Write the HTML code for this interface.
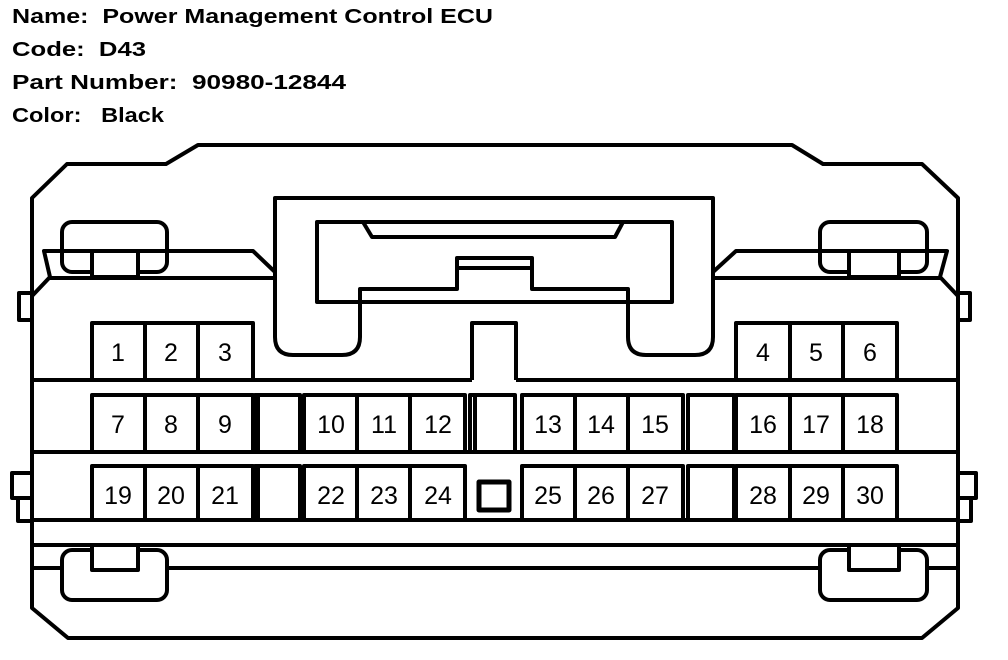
<!DOCTYPE html>
<html><head><meta charset="utf-8"><style>
html,body{margin:0;padding:0;background:#fff;}
svg{display:block;}
.h{font-family:"Liberation Sans",sans-serif;font-weight:bold;font-size:20px;white-space:pre;}
.n{font-family:"Liberation Sans",sans-serif;font-size:25px;text-anchor:middle;}
</style></head><body>
<svg width="1008" height="660" viewBox="0 0 1008 660" xmlns="http://www.w3.org/2000/svg" xml:space="preserve">
<text class="h" x="12" y="23" textLength="481" lengthAdjust="spacingAndGlyphs">Name:  Power Management Control ECU</text>
<text class="h" x="12" y="56" textLength="134" lengthAdjust="spacingAndGlyphs">Code:  D43</text>
<text class="h" x="12" y="89" textLength="334" lengthAdjust="spacingAndGlyphs">Part Number:  90980-12844</text>
<text class="h" x="12" y="122" textLength="152" lengthAdjust="spacingAndGlyphs">Color:   Black</text>
<g fill="none" stroke="#000" stroke-width="4" stroke-linejoin="round">
<path d="M32,296 L32,608 L68,638 L922,638 L958,608 L958,198 L922,164 L823,164 L792,145 L198,145 L166,164 L67,164 L32,198 L32,296"/>
<rect x="19" y="293" width="13" height="27"/>
<rect x="958" y="293" width="12" height="27"/>
<rect x="12" y="473" width="20" height="25"/>
<rect x="18" y="498" width="14" height="23"/>
<rect x="958" y="473" width="18" height="25"/>
<rect x="958" y="498" width="13" height="23"/>
<path d="M32,296 L50,277 L44,251 L253,251 L275,272"/>
<path d="M50,278 L275,278"/>
<path d="M958,296 L940,277 L947,251 L736,251 L713,272"/>
<path d="M713,278 L940,278"/>
<rect x="62" y="222" width="105" height="50" rx="10"/>
<rect x="92" y="251" width="46" height="26" fill="#fff"/>
<rect x="820" y="222" width="107" height="50" rx="10"/>
<rect x="849" y="251" width="50" height="26" fill="#fff"/>
<path d="M275,278 L275,198 L713,198 L713,337 Q713,355 695,355 L646,355 Q628,355 628,337 L628,289 L532,289 L532,258 L457,258 L457,289 L360,289 L360,337 Q360,355 342,355 L293,355 Q275,355 275,337 Z"/>
<rect x="317" y="222" width="355" height="80"/>
<path d="M363,222 L372,237 L615,237 L623,222"/>
<path d="M457,268 L532,268"/>
<path d="M32,380 L472,380 M516,380 L958,380"/>
<path d="M472,380 L472,323 L516,323 L516,380"/>
<path d="M32,452 L958,452"/>
<path d="M32,520 L958,520"/>
<path d="M32,545 L958,545"/>
<path d="M32,568 L62,568 M167,568 L820,568 M927,568 L958,568"/>
<rect x="62" y="550" width="105" height="50" rx="10" fill="#fff"/>
<rect x="92" y="545" width="46" height="25" fill="#fff"/>
<rect x="820" y="550" width="107" height="50" rx="10" fill="#fff"/>
<rect x="849" y="545" width="50" height="25" fill="#fff"/>
<path d="M470,452 L470,395 L515,395 L515,452"/>
<path d="M475,395 L475,450"/>
<rect x="479" y="482" width="30" height="28" stroke-width="5"/>
<g>
<rect x="92" y="323" width="53" height="57"/><rect x="145" y="323" width="53" height="57"/><rect x="198" y="323" width="55" height="57"/>
<rect x="736" y="323" width="54" height="57"/><rect x="790" y="323" width="53" height="57"/><rect x="843" y="323" width="54" height="57"/>
<rect x="92" y="395" width="53" height="57"/><rect x="145" y="395" width="53" height="57"/><rect x="198" y="395" width="55" height="57"/>
<rect x="255" y="395" width="45" height="57"/>
<rect x="304" y="395" width="53" height="57"/><rect x="357" y="395" width="53" height="57"/><rect x="410" y="395" width="55" height="57"/>
<rect x="522" y="395" width="53" height="57"/><rect x="575" y="395" width="53" height="57"/><rect x="628" y="395" width="55" height="57"/>
<rect x="688" y="395" width="46" height="57"/>
<rect x="736" y="395" width="54" height="57"/><rect x="790" y="395" width="53" height="57"/><rect x="843" y="395" width="54" height="57"/>
<rect x="92" y="466" width="53" height="54"/><rect x="145" y="466" width="53" height="54"/><rect x="198" y="466" width="55" height="54"/>
<rect x="255" y="466" width="45" height="54"/>
<rect x="304" y="466" width="53" height="54"/><rect x="357" y="466" width="53" height="54"/><rect x="410" y="466" width="55" height="54"/>
<rect x="522" y="466" width="53" height="54"/><rect x="575" y="466" width="53" height="54"/><rect x="628" y="466" width="55" height="54"/>
<rect x="688" y="466" width="46" height="54"/>
<rect x="736" y="466" width="54" height="54"/><rect x="790" y="466" width="53" height="54"/><rect x="843" y="466" width="54" height="54"/>
</g>
<path d="M257,395 L257,452 M257,466 L257,520" stroke-width="6"/>
</g>
<g class="n" fill="#000">
<text x="118" y="361">1</text><text x="171" y="361">2</text><text x="225" y="361">3</text>
<text x="763" y="361">4</text><text x="816" y="361">5</text><text x="870" y="361">6</text>
<text x="118" y="433">7</text><text x="171" y="433">8</text><text x="225" y="433">9</text>
<text x="331" y="433">10</text><text x="384" y="433">11</text><text x="438" y="433">12</text>
<text x="548" y="433">13</text><text x="601" y="433">14</text><text x="655" y="433">15</text>
<text x="763" y="433">16</text><text x="816" y="433">17</text><text x="870" y="433">18</text>
<text x="118" y="504">19</text><text x="171" y="504">20</text><text x="225" y="504">21</text>
<text x="331" y="504">22</text><text x="384" y="504">23</text><text x="438" y="504">24</text>
<text x="548" y="504">25</text><text x="601" y="504">26</text><text x="655" y="504">27</text>
<text x="763" y="504">28</text><text x="816" y="504">29</text><text x="870" y="504">30</text>
</g>
</svg>
</body></html>
